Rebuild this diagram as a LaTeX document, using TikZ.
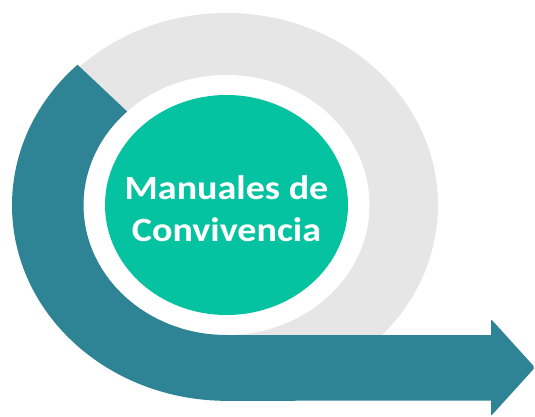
\documentclass[tikz,border=0pt]{standalone}
\usepackage{fontspec}
\setmainfont{Carlito}
\definecolor{teal1}{HTML}{2E8394}
\definecolor{ring}{HTML}{E6E6E6}
\definecolor{green1}{HTML}{05C3A0}
\begin{document}
\begin{tikzpicture}[x=1pt,y=1pt]
\useasboundingbox (0,0) rectangle (535,-417);
\coordinate (C) at (226.5,-205);
% gray ring
\fill[ring] (C) ellipse [x radius=211.5, y radius=192];
\fill[white] (C) ellipse [x radius=143, y radius=130];
% green disc
\fill[green1] (C) ellipse [x radius=121.5, y radius=110];
% teal arrow
\fill[teal1] (77.5,-64.7) arc[start angle=134,end angle=270,x radius=214.5,y radius=195.5]
  -- (491,-400.5) [rounded corners=2pt] -- (491,-416) -- (535,-367.5) -- (491,-319) [sharp corners] -- (491,-335)
  -- (226.5,-335) arc[start angle=270,end angle=134,x radius=143,y radius=130] -- cycle;
\node[text=white, font=\bfseries\fontsize{34}{42}\selectfont, align=center, xscale=1.12] (label) at (226.5,-209) {Manuales de\\Convivencia};
\end{tikzpicture}
\end{document}
